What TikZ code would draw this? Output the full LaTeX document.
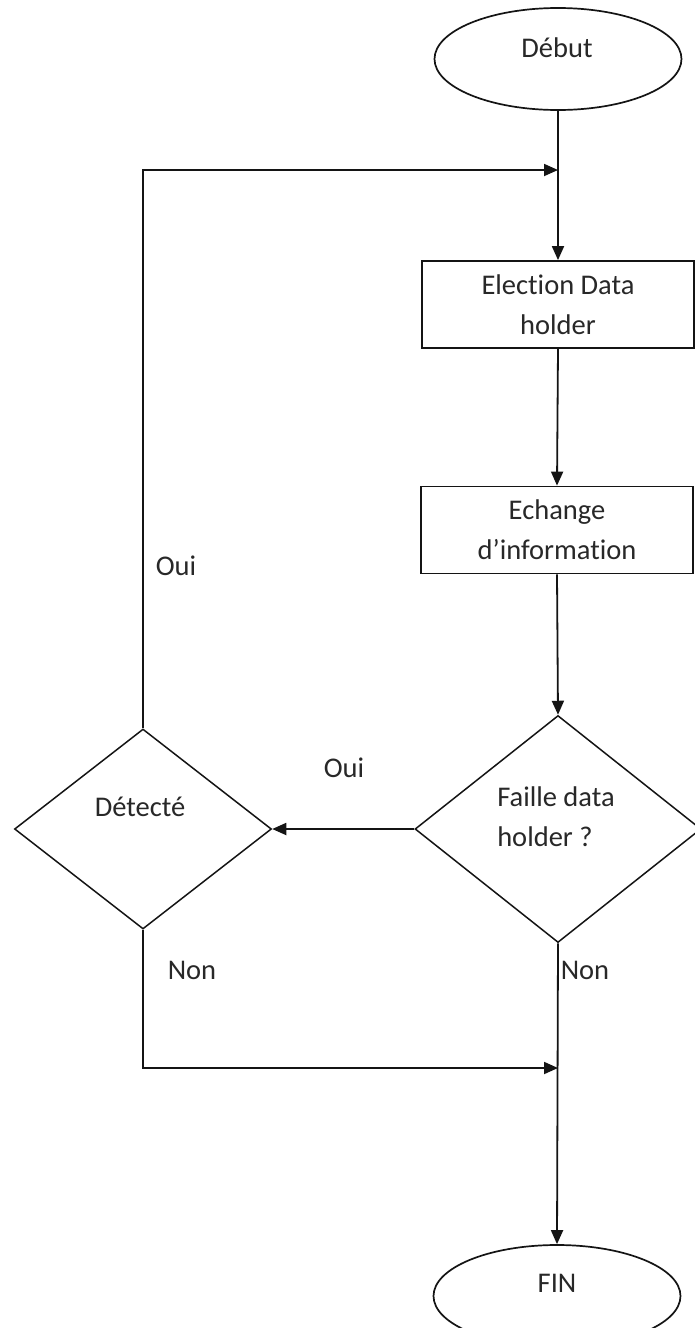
\documentclass[tikz,border=0pt]{standalone}
\usepackage{fontspec}
\setmainfont{Carlito}[Ligatures=NoCommon]
\usetikzlibrary{shapes.geometric,arrows.meta}
\definecolor{ink}{RGB}{40,40,40}
\definecolor{linecol}{RGB}{20,20,20}
\tikzset{
  every node/.style={font=\fontsize{28.5}{40}\selectfont, text=ink},
  conn/.style={draw=linecol, line width=1.8pt},
  arr/.style={conn, -{Triangle[length=14pt,width=12pt]}},
  terminal/.style={ellipse, draw=linecol, line width=1.7pt, inner sep=0pt},
  procbox/.style={rectangle, draw=linecol, line width=1.8pt, inner sep=0pt,
    minimum width=272pt, minimum height=87pt, align=center},
  decision/.style={diamond, draw=linecol, line width=1.5pt, inner sep=0pt},
  lbl/.style={inner sep=0pt, anchor=center}
}
\begin{document}
\begin{tikzpicture}[x=1pt,y=-1pt]
  \useasboundingbox (0,0) rectangle (695,1328);
  \clip (0,0) rectangle (695,1328);
  \fill[white] (0,0) rectangle (695,1328);

  % terminals
  \node[terminal, minimum width=247pt, minimum height=102pt] (debut) at (558,59) {};
  \node[lbl] (debutT) at (557,48) {Début};
  \node[terminal, minimum width=247pt, minimum height=102pt] (fin) at (557,1296) {};
  \node[lbl] (finT) at (557,1283) {FIN};

  % process boxes
  \node[procbox] (elect) at (558,304.5) {Election Data\\holder};
  \node[procbox] (echange) at (557,530) {Echange\\d’information};

  % decisions
  \node[decision, minimum width=286pt, minimum height=227pt] (faille) at (558,829) {};
  \node[lbl, align=left] (failleT) at (556,817) {Faille data\\holder ?};
  \node[decision, minimum width=257pt, minimum height=200pt] (detect) at (143,829) {};
  \node[lbl] (detectT) at (140,807) {Détecté};

  % joining points on the main line
  \coordinate (joinTop) at (558,170);
  \coordinate (joinBot) at (558,1068);

  % connectors
  \draw[arr] (debut.south) -- (elect.north);
  \draw[arr] (elect.south) -- (echange.north);
  \draw[arr] (echange.south) -- (faille.north);
  \draw[arr] (faille.west) -- (detect.east);
  \draw[arr] (faille.south) -- (fin.north);
  \draw[arr] (detect.north) |- (joinTop);
  \draw[arr] (detect.south) |- (joinBot);

  % branch labels
  \node[lbl] (ouiL) at (176,566) {Oui};
  \node[lbl] (ouiM) at (344,768) {Oui};
  \node[lbl] (nonL) at (192,970) {Non};
  \node[lbl] (nonR) at (585,970) {Non};
\end{tikzpicture}
\end{document}
